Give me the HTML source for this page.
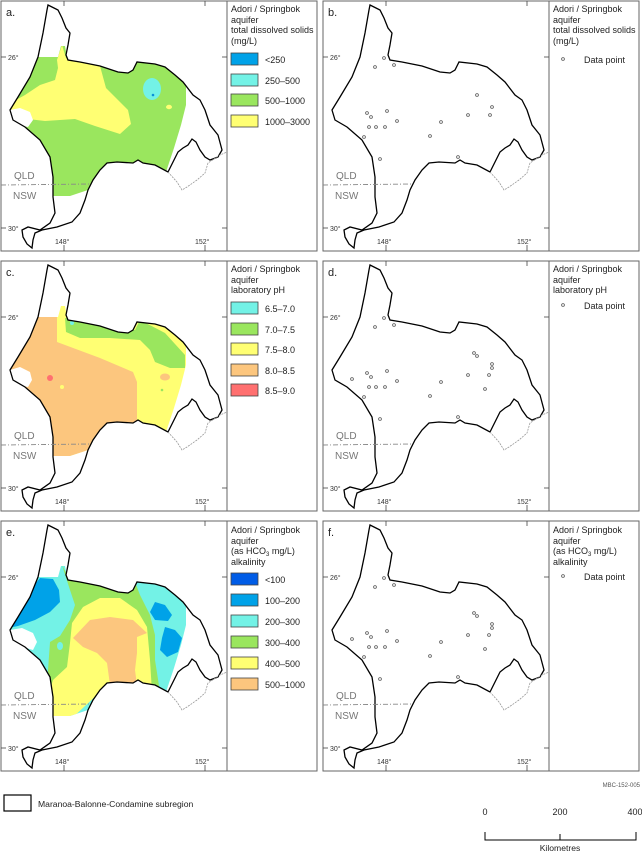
<!DOCTYPE html>
<html><head><meta charset="utf-8"><style>
html,body{margin:0;padding:0;background:#fff}
svg{display:block;font-family:"Liberation Sans",Arial,sans-serif}
.lt{font-size:9px;fill:#222}
.tk{font-size:7px;fill:#333}
.st{font-size:10px;fill:#777}
</style></head><body>
<svg width="642" height="852" viewBox="0 0 642 852" xmlns="http://www.w3.org/2000/svg">
<defs>
<path id="ol" d="M48,5 L58,10 L62,18 L66,28 L70,33 L68,45 L66,55 L68,60 L80,62 L100,66 L118,72 L128,73 L133,70 L137,62 L155,64 L165,67 L175,75 L183,82 L193,95 L200,100 L205,110 L210,125 L218,135 L222,150 L218,157 L210,160 L205,157 L200,150 L196,142 L192,139 L188,145 L183,148 L178,152 L174,160 L170,168 L168,172 L155,165 L143,163 L138,160 L133,163 L117,162 L107,163 L100,170 L93,180 L88,190 L85,200 L80,213 L72,222 L57,227 L42,230 L35,233 L33,240 L32,248 L27,244 L23,237 L22,230 L28,227 L40,230 L50,223 L55,213 L53,197 L53,177 L50,157 L40,140 L25,127 L13,120 L10,110 L18,97 L30,77 L38,57 L43,33 L47,10 Z"/>
<clipPath id="cp"><use href="#ol"/></clipPath>
<clipPath id="ext"><path d="M0,57 L58,57 L61,46 L65,46 L67,57 L186,57 L186,105 L181,125 L174,148 L166,172 L100,172 L88,190 L70,196 L50,196 L0,196 Z"/></clipPath>
<g id="frame">
<rect x="1" y="1" width="316" height="250" fill="none" stroke="#666" stroke-width="1"/>
<line x1="227" y1="1" x2="227" y2="251" stroke="#666"/>
<g stroke="#444" stroke-width="0.8">
<line x1="1" y1="57" x2="6" y2="57"/><line x1="1" y1="228" x2="6" y2="228"/>
<line x1="222" y1="57" x2="227" y2="57"/><line x1="222" y1="228" x2="227" y2="228"/>
<line x1="64" y1="245" x2="64" y2="251"/><line x1="205" y1="245" x2="205" y2="251"/>
<line x1="64" y1="1" x2="64" y2="6"/><line x1="205" y1="1" x2="205" y2="6"/>
</g>
<text class="tk" x="8" y="60">26°</text><text class="tk" x="8" y="231">30°</text>
<text class="tk" x="55" y="244">148°</text><text class="tk" x="195" y="244">152°</text>
<text class="st" x="14" y="179">QLD</text><text class="st" x="13" y="199">NSW</text>
<line x1="1" y1="185" x2="90" y2="184" stroke="#888" stroke-width="0.9" stroke-dasharray="5,2,1,2"/>
<path d="M168,172 L177,182 L182,190 L187,187 L197,180 L205,173 L208,163 L220,155 L227,152" fill="none" stroke="#999" stroke-width="0.8" stroke-dasharray="2,1"/>
</g>
<g id="outl"><use href="#ol" fill="none" stroke="#000" stroke-width="1.3"/></g>
<g id="pts" fill="none" stroke="#555" stroke-width="0.8">
<circle cx="62" cy="58" r="1.4"/><circle cx="53" cy="67" r="1.4"/><circle cx="72" cy="65" r="1.4"/>
<circle cx="146" cy="115" r="1.4"/><circle cx="45" cy="113" r="1.4"/><circle cx="49" cy="117" r="1.4"/>
<circle cx="65" cy="111" r="1.4"/><circle cx="75" cy="121" r="1.4"/><circle cx="47" cy="127" r="1.4"/>
<circle cx="54" cy="127" r="1.4"/><circle cx="63" cy="127" r="1.4"/><circle cx="119" cy="122" r="1.4"/>
<circle cx="108" cy="136" r="1.4"/><circle cx="42" cy="137" r="1.4"/><circle cx="58" cy="159" r="1.4"/>
<circle cx="136" cy="157" r="1.4"/>
</g>
</defs>

<!-- Panel a -->
<g>
<g clip-path="url(#cp)"><g clip-path="url(#ext)">
<rect x="0" y="0" width="227" height="250" fill="#9ae65e"/>
<path d="M57,60 L62,45 L66,58 L100,66 L106,88 L118,100 L128,110 L131,124 L120,134 L95,126 L75,119 L45,121 L28,119 L5,106 L25,95 L40,85 L55,80 L58,68 Z" fill="#ffff73"/>
<ellipse cx="40" cy="70" rx="17" ry="13" fill="#9ae65e"/>
<path d="M10,110 L20,108 L30,112 L33,120 L28,127 L13,124 Z" fill="#fff"/>
<ellipse cx="152" cy="89" rx="9" ry="11" fill="#73f2e6"/>
<circle cx="153" cy="95" r="1.3" fill="#0a8fd8"/>
<ellipse cx="169" cy="107" rx="3" ry="2.2" fill="#ffff73"/>
</g></g>
<use href="#outl"/><use href="#frame"/>
<text x="6" y="16" font-size="11" fill="#222">a.</text>
<text class="lt" x="231" y="12">Adori / Springbok</text><text class="lt" x="231" y="23">aquifer</text>
<text class="lt" x="231" y="33">total dissolved solids</text><text class="lt" x="231" y="44">(mg/L)</text>
<g stroke="#444" stroke-width="0.8">
<rect x="231" y="53" width="27" height="12" fill="#00a2e8"/><rect x="231" y="74" width="27" height="12" fill="#73f2e6"/>
<rect x="231" y="94" width="27" height="12" fill="#9ae65e"/><rect x="231" y="115" width="27" height="12" fill="#ffff73"/>
</g>
<text class="lt" x="265" y="63">&lt;250</text><text class="lt" x="265" y="84">250–500</text>
<text class="lt" x="265" y="104">500–1000</text><text class="lt" x="265" y="125">1000–3000</text>
</g>

<!-- Panel b -->
<g transform="translate(322,0)">
<use href="#outl"/><use href="#frame"/><use href="#pts"/>
<g fill="none" stroke="#555" stroke-width="0.8"><circle cx="155" cy="95" r="1.4"/><circle cx="170" cy="107" r="1.4"/><circle cx="168" cy="115" r="1.4"/></g>
<text x="6" y="16" font-size="11" fill="#222">b.</text>
<text class="lt" x="231" y="12">Adori / Springbok</text><text class="lt" x="231" y="23">aquifer</text>
<text class="lt" x="231" y="33">total dissolved solids</text><text class="lt" x="231" y="44">(mg/L)</text>
<circle cx="241" cy="59" r="1.4" fill="none" stroke="#555" stroke-width="0.8"/>
<text class="lt" x="262" y="63">Data point</text>
</g>

<!-- Panel c -->
<g transform="translate(0,260)">
<g clip-path="url(#cp)"><g clip-path="url(#ext)">
<rect x="0" y="0" width="227" height="250" fill="#ffff73"/>
<path d="M0,55 L57,55 L57,82 L100,98 L133,112 L137,122 L137,168 L100,170 L90,190 L70,196 L50,196 L0,150 Z" fill="#fcc67e"/>
<path d="M65,58 L66,72 L80,78 L110,78 L140,80 L150,90 L155,102 L170,108 L185,108 L185,95 L165,73 L140,60 L135,70 L100,65 Z" fill="#9ae65e"/>
<circle cx="72" cy="63" r="2" fill="#73f2e6"/>
<path d="M10,110 L20,107 L30,112 L32,120 L28,127 L13,124 Z" fill="#fff"/>
<ellipse cx="165" cy="117" rx="5" ry="3.5" fill="#fcc67e"/>
<circle cx="50" cy="118" r="3" fill="#ff7070"/>
<circle cx="62" cy="127" r="2" fill="#ffff73"/>
<circle cx="162" cy="130" r="1.3" fill="#9ae65e"/>
</g></g>
<use href="#outl"/><use href="#frame"/>
<text x="6" y="16" font-size="11" fill="#222">c.</text>
<text class="lt" x="231" y="12">Adori / Springbok</text><text class="lt" x="231" y="23">aquifer</text>
<text class="lt" x="231" y="33">laboratory pH</text>
<g stroke="#444" stroke-width="0.8">
<rect x="231" y="42" width="27" height="12" fill="#73f2e6"/><rect x="231" y="63" width="27" height="12" fill="#9ae65e"/>
<rect x="231" y="83" width="27" height="12" fill="#ffff73"/><rect x="231" y="104" width="27" height="12" fill="#fcc67e"/>
<rect x="231" y="124" width="27" height="12" fill="#ff7070"/>
</g>
<text class="lt" x="265" y="52">6.5–7.0</text><text class="lt" x="265" y="73">7.0–7.5</text>
<text class="lt" x="265" y="93">7.5–8.0</text><text class="lt" x="265" y="114">8.0–8.5</text>
<text class="lt" x="265" y="134">8.5–9.0</text>
</g>

<!-- Panel d -->
<g transform="translate(322,260)">
<use href="#outl"/><use href="#frame"/><use href="#pts"/>
<g fill="none" stroke="#555" stroke-width="0.8"><circle cx="152" cy="93" r="1.4"/><circle cx="155" cy="96" r="1.4"/><circle cx="170" cy="104" r="1.4"/><circle cx="170" cy="108" r="1.4"/><circle cx="167" cy="115" r="1.4"/><circle cx="163" cy="129" r="1.4"/><circle cx="30" cy="119" r="1.4"/></g>
<text x="6" y="16" font-size="11" fill="#222">d.</text>
<text class="lt" x="231" y="12">Adori / Springbok</text><text class="lt" x="231" y="23">aquifer</text>
<text class="lt" x="231" y="33">laboratory pH</text>
<circle cx="241" cy="45" r="1.4" fill="none" stroke="#555" stroke-width="0.8"/>
<text class="lt" x="262" y="49">Data point</text>
</g>

<!-- Panel e -->
<g transform="translate(0,520)">
<g clip-path="url(#cp)"><g clip-path="url(#ext)">
<rect x="0" y="0" width="227" height="250" fill="#73f2e6"/>
<path d="M62,45 L70,60 L135,62 L140,75 L150,95 L155,115 L155,140 L160,172 L100,172 L60,200 L48,190 L48,150 L50,122 L60,116 L70,100 L75,85 L70,70 Z" fill="#9ae65e"/>
<path d="M72,103 L83,87 L100,78 L120,78 L137,90 L147,107 L150,140 L152,172 L100,172 L70,200 L40,200 L53,160 L67,147 L70,123 Z" fill="#ffff73"/>
<path d="M73,118 L90,100 L110,97 L133,100 L147,113 L137,117 L137,133 L135,150 L137,165 L110,165 L107,143 L97,133 L83,127 Z" fill="#fcc67e"/>
<path d="M40,58 L53,59 L59,70 L60,82 L50,92 L35,100 L18,106 L8,108 L20,85 L30,70 Z" fill="#00a2e8"/>
<path d="M155,82 L165,85 L172,95 L168,101 L155,100 L150,92 Z" fill="#00a2e8"/>
<path d="M165,107 L175,110 L182,118 L178,132 L167,137 L160,130 L162,118 Z" fill="#00a2e8"/>
<path d="M10,110 L22,108 L33,113 L37,122 L33,130 L13,124 Z" fill="#fff"/>
<ellipse cx="60" cy="126" rx="3" ry="4" fill="#73f2e6"/>
</g></g>
<use href="#outl"/><use href="#frame"/>
<text x="6" y="16" font-size="11" fill="#222">e.</text>
<text class="lt" x="231" y="13">Adori / Springbok</text><text class="lt" x="231" y="24">aquifer</text>
<text class="lt" x="231" y="34">(as HCO<tspan font-size="6" dy="2">3</tspan><tspan dy="-2"> mg/L)</tspan></text><text class="lt" x="231" y="45">alkalinity</text>
<g stroke="#444" stroke-width="0.8">
<rect x="231" y="53" width="27" height="12" fill="#005ce6"/><rect x="231" y="74" width="27" height="12" fill="#00a2e8"/>
<rect x="231" y="95" width="27" height="12" fill="#73f2e6"/><rect x="231" y="116" width="27" height="12" fill="#9ae65e"/>
<rect x="231" y="137" width="27" height="12" fill="#ffff73"/><rect x="231" y="158" width="27" height="12" fill="#fcc67e"/>
</g>
<text class="lt" x="265" y="63">&lt;100</text><text class="lt" x="265" y="84">100–200</text>
<text class="lt" x="265" y="105">200–300</text><text class="lt" x="265" y="126">300–400</text>
<text class="lt" x="265" y="147">400–500</text><text class="lt" x="265" y="168">500–1000</text>
</g>

<!-- Panel f -->
<g transform="translate(322,520)">
<use href="#outl"/><use href="#frame"/><use href="#pts"/>
<g fill="none" stroke="#555" stroke-width="0.8"><circle cx="152" cy="93" r="1.4"/><circle cx="155" cy="96" r="1.4"/><circle cx="170" cy="104" r="1.4"/><circle cx="170" cy="108" r="1.4"/><circle cx="167" cy="115" r="1.4"/><circle cx="163" cy="129" r="1.4"/><circle cx="30" cy="119" r="1.4"/></g>
<text x="6" y="16" font-size="11" fill="#222">f.</text>
<text class="lt" x="231" y="13">Adori / Springbok</text><text class="lt" x="231" y="24">aquifer</text>
<text class="lt" x="231" y="34">(as HCO<tspan font-size="6" dy="2">3</tspan><tspan dy="-2"> mg/L)</tspan></text><text class="lt" x="231" y="45">alkalinity</text>
<circle cx="241" cy="56" r="1.4" fill="none" stroke="#555" stroke-width="0.8"/>
<text class="lt" x="262" y="60">Data point</text>
</g>

<!-- Bottom -->
<text x="640" y="787" font-size="6" fill="#555" text-anchor="end">MBC-152-005</text>
<rect x="4" y="795" width="27" height="16" fill="none" stroke="#000" stroke-width="1.2"/>
<text x="38" y="807" font-size="8.6" fill="#222">Maranoa-Balonne-Condamine subregion</text>
<text x="485" y="815" font-size="9" fill="#222" text-anchor="middle">0</text>
<text x="560" y="815" font-size="9" fill="#222" text-anchor="middle">200</text>
<text x="635" y="815" font-size="9" fill="#222" text-anchor="middle">400</text>
<path d="M485,832 L485,840 L636,840 L636,832 M560,834 L560,840" fill="none" stroke="#000" stroke-width="1"/>
<text x="560" y="851" font-size="8.6" fill="#222" text-anchor="middle">Kilometres</text>
</svg>
</body></html>
